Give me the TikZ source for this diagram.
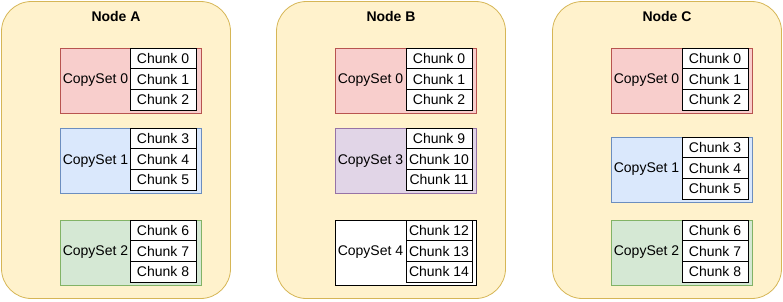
\documentclass[tikz,border=0pt]{standalone}
\usepackage{fontspec}
\setmainfont{Liberation Sans}
\definecolor{hostfill}{HTML}{FFF2CC}
\definecolor{hostdraw}{HTML}{D6B656}
\definecolor{redfill}{HTML}{F8CECC}
\definecolor{reddraw}{HTML}{B85450}
\definecolor{bluefill}{HTML}{DAE8FC}
\definecolor{bluedraw}{HTML}{6C8EBF}
\definecolor{greenfill}{HTML}{D5E8D4}
\definecolor{greendraw}{HTML}{82B366}
\definecolor{purplefill}{HTML}{E1D5E7}
\definecolor{purpledraw}{HTML}{9673A6}
\usetikzlibrary{positioning}

\begin{document}
\begin{tikzpicture}[x=1pt, y=-1pt,
  host/.style={draw=hostdraw, fill=hostfill, line width=0.8pt, rounded corners=30pt,
    minimum width=229pt, minimum height=297pt, inner sep=0pt},
  hosttitle/.style={font=\fontsize{14}{16}\selectfont\bfseries},
  cset/.style 2 args={draw=#2, fill=#1, line width=0.8pt,
    minimum width=141pt, minimum height=65pt, inner sep=0pt},
  csetlbl/.style={font=\fontsize{14}{16}\selectfont, inner sep=0pt},
  chunk/.style={draw=black, fill=white, line width=0.8pt,
    minimum width=66pt, minimum height=20.7pt, inner sep=0pt,
    font=\fontsize{14}{16}\selectfont},
]
\useasboundingbox (0,0) rectangle (783,301);

% hosts
\node[host] (hostA) at (116,150) {};
\node[host] (hostB) at (391,150) {};
\node[host] (hostC) at (667,150) {};
\node[hosttitle] (titleA) at (116,16) {Node A};
\node[hosttitle] (titleB) at (391,16) {Node B};
\node[hosttitle] (titleC) at (667,16) {Node C};

% Node A
\node[cset={redfill}{reddraw}] (csA0) at (130.5,80.5) {};
\node[csetlbl] (lblA0) at (95.5,80.5) {CopySet 0};
\foreach \n [count=\k from 0] in {0,1,2}
  \node[chunk] (a\n) at (163,{58.35+20.7*\k}) {Chunk \n};
\node[cset={bluefill}{bluedraw}] (csA1) at (130.5,161) {};
\node[csetlbl] (lblA1) at (95.5,161) {CopySet 1};
\foreach \n [count=\k from 0] in {3,4,5}
  \node[chunk] (a\n) at (163,{138.35+20.7*\k}) {Chunk \n};
\node[cset={greenfill}{greendraw}] (csA2) at (130.5,252.5) {};
\node[csetlbl] (lblA2) at (95.5,252.5) {CopySet 2};
\foreach \n [count=\k from 0] in {6,7,8}
  \node[chunk] (a\n) at (163,{230.35+20.7*\k}) {Chunk \n};

% Node B
\node[cset={redfill}{reddraw}] (csB0) at (406,80.5) {};
\node[csetlbl] (lblB0) at (370.5,80.5) {CopySet 0};
\foreach \n [count=\k from 0] in {0,1,2}
  \node[chunk] (b\n) at (439,{58.35+20.7*\k}) {Chunk \n};
\node[cset={purplefill}{purpledraw}] (csB3) at (406,161) {};
\node[csetlbl] (lblB3) at (370.5,161) {CopySet 3};
\foreach \n [count=\k from 0] in {9,10,11}
  \node[chunk] (b\n) at (439,{138.35+20.7*\k}) {Chunk \n};
\node[cset={white}{black}] (csB4) at (406,252.5) {};
\node[csetlbl] (lblB4) at (370.5,252.5) {CopySet 4};
\foreach \n [count=\k from 0] in {12,13,14}
  \node[chunk] (b\n) at (439,{230.35+20.7*\k}) {Chunk \n};

% Node C
\node[cset={redfill}{reddraw}] (csC0) at (681.5,80.5) {};
\node[csetlbl] (lblC0) at (646.5,80.5) {CopySet 0};
\foreach \n [count=\k from 0] in {0,1,2}
  \node[chunk] (c\n) at (715,{58.35+20.7*\k}) {Chunk \n};
\node[cset={bluefill}{bluedraw}] (csC1) at (681.5,169.5) {};
\node[csetlbl] (lblC1) at (646.5,169.5) {CopySet 1};
\foreach \n [count=\k from 0] in {3,4,5}
  \node[chunk] (c\n) at (715,{147.35+20.7*\k}) {Chunk \n};
\node[cset={greenfill}{greendraw}] (csC2) at (681.5,252.5) {};
\node[csetlbl] (lblC2) at (646.5,252.5) {CopySet 2};
\foreach \n [count=\k from 0] in {6,7,8}
  \node[chunk] (c\n) at (715,{230.35+20.7*\k}) {Chunk \n};
\end{tikzpicture}
\end{document}
